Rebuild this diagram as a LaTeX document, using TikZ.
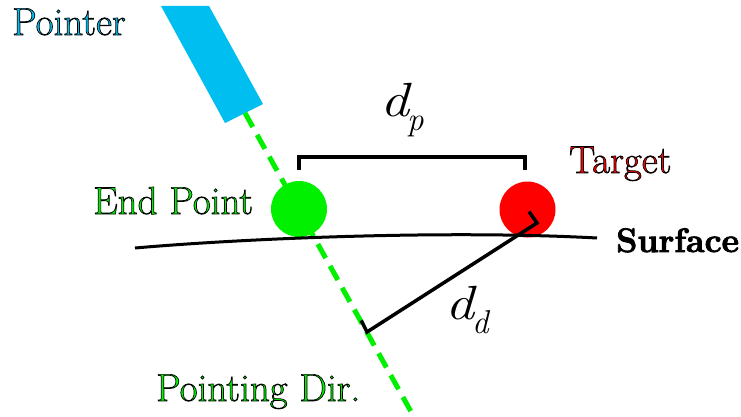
\documentclass[tikz,border=0pt]{standalone}
\usepackage{fontspec}
\usepackage{graphicx}
\definecolor{ptrcyan}{RGB}{0,191,240}
\definecolor{ptgreen}{RGB}{0,240,0}
\definecolor{tgred}{RGB}{255,0,0}
\newcommand\outl[2]{\textcolor{#1}{\special{pdf:literal direct 0 G 2 Tr 0.7 w}#2\special{pdf:literal direct 0 Tr}}}
\newcommand\dsym[1]{{\fontsize{48}{48}\selectfont\itshape\scalebox{1.2}[1]{d}}\kern-2pt\raisebox{-14pt}{\fontsize{33}{33}\selectfont\itshape #1}}
\tikzset{
  lbl/.style={anchor=base west, inner sep=0pt, font=\fontsize{39}{39}\selectfont},
  dot/.style={circle, inner sep=0pt, minimum size=56pt},
  blk/.style={line width=3.5pt, black},
}
\begin{document}
\begin{tikzpicture}[x=1pt,y=-1pt]
\useasboundingbox (0,0) rectangle (741,417);
% pointer
\fill[ptrcyan] (161,6) -- (209,6) -- (263,104) -- (225,123) -- cycle;
\coordinate (pb) at (245,113);
\coordinate (de) at (414,417);
\draw[ptgreen, line width=5pt, dash pattern=on 16pt off 9pt] (pb) -- (de);
% circles
\node[dot, fill=ptgreen] (ep) at (299,209) {};
\node[dot, fill=tgred] (tg) at (527.5,209.5) {};
% surface
\coordinate (s1) at (135,248);
\coordinate (s2) at (597,238);
\draw[line width=3pt] (s1) .. controls (250,238) and (450,230) .. (s2);
% bracket d_p
\coordinate (b1) at (299,168);
\coordinate (b2) at (525,168);
\draw[blk, line cap=rect] (b1) -- ++(0,-11) -| (b2);
% d_d
\coordinate (ft) at (367,332);
\coordinate (rt) at (537,223);
\draw[blk, line cap=rect] (362,322) -- (ft) -- (rt) -- (530,213);
% labels
\node[anchor=base west, inner sep=0pt] (dp) at (380,117) {\dsym{p}};
\node[anchor=base west, inner sep=0pt] (dd) at (445,319) {\dsym{d}};
\node[lbl, font=\fontsize{34}{34}\selectfont\bfseries] (sf) at (616,252) {\special{pdf:literal direct 0 G 2 Tr 0.8 w}Surface\special{pdf:literal direct 0 Tr}};
\node[lbl] (ptr) at (12,35) {\outl{ptrcyan}{Pointer}};
\node[lbl] (eplbl) at (93,214) {\outl{ptgreen}{End Point}};
\node[lbl] (tglbl) at (569,173) {\outl{tgred}{Target}};
\node[lbl] (pd) at (156,401) {\outl{ptgreen}{Pointing Dir.}};
\end{tikzpicture}
\end{document}
